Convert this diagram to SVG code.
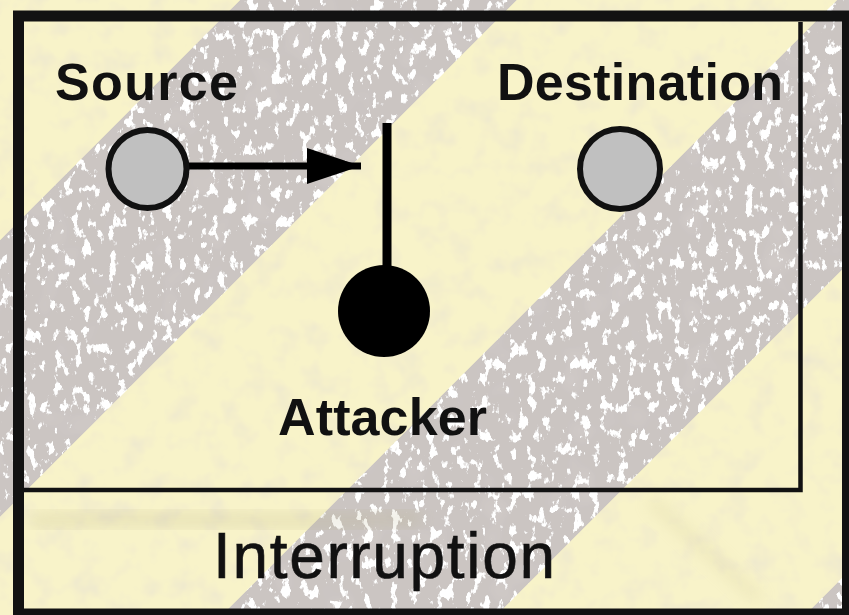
<svg xmlns="http://www.w3.org/2000/svg" width="849" height="615" viewBox="0 0 849 615">
  <style>
    .lbl { font-family: "Liberation Sans", Arial, Helvetica, sans-serif; font-weight: bold; font-size: 52px; fill: #111; }
    .title { font-family: "Liberation Sans", Arial, Helvetica, sans-serif; font-size: 64px; fill: #111; stroke: #111; stroke-width: 0.6; }
    .node { fill: #c0c0c0; stroke: #111; stroke-width: 6; }
    .attacker { fill: #000; }
    .wire { stroke: #000; fill: none; }
    .frame { fill: none; stroke: #121212; }
  </style>
  <defs>
    <!-- worn, speckled grey paint for the diagonal bands -->
    <filter id="worn" x="0" y="0" width="100%" height="100%" filterUnits="userSpaceOnUse">
      <feTurbulence type="fractalNoise" baseFrequency="0.11 0.07" numOctaves="4" seed="7" result="noise"/>
      <feColorMatrix in="noise" type="matrix" values="0 0 0 0 1  0 0 0 0 1  0 0 0 0 1  0 0 0 14 -8.3" result="specks"/>
      <feTurbulence type="fractalNoise" baseFrequency="0.025" numOctaves="2" seed="3" result="noise2"/>
      <feColorMatrix in="noise2" type="matrix" values="0 0 0 0 0.66  0 0 0 0 0.62  0 0 0 0 0.6  0 0 0 2 -1.15" result="blots"/>
      <feMerge result="paint">
        <feMergeNode in="SourceGraphic"/>
        <feMergeNode in="blots"/>
        <feMergeNode in="specks"/>
      </feMerge>
      <feComposite in="paint" in2="SourceAlpha" operator="in"/>
    </filter>
    <!-- faint mottling on the pale yellow ground -->
    <filter id="mottle" x="0" y="0" width="100%" height="100%" filterUnits="userSpaceOnUse">
      <feTurbulence type="fractalNoise" baseFrequency="0.04" numOctaves="3" seed="11" result="n"/>
      <feColorMatrix in="n" type="matrix" values="0 0 0 0 0.85  0 0 0 0 0.8  0 0 0 0 0.62  0 0 0 2 -0.95" result="m"/>
      <feMerge><feMergeNode in="SourceGraphic"/><feMergeNode in="m"/></feMerge>
    </filter>
    <filter id="soft" x="-20%" y="-300%" width="140%" height="700%">
      <feGaussianBlur stdDeviation="8"/>
    </filter>
    <marker id="head" markerUnits="userSpaceOnUse" markerWidth="56" markerHeight="38" refX="54" refY="18" orient="auto">
      <path d="M0,0 L54,18 L0,36 z" fill="#000"/>
    </marker>
  </defs>

  <!-- background: pale yellow with diagonal worn grey bands -->
  <g id="background">
    <rect x="0" y="0" width="849" height="615" fill="#f8f3c9" filter="url(#mottle)"/>
    <g filter="url(#worn)">
      <polygon points="240,0 517,0 0,517 0,240" fill="#cbc5c2"/>
      <polygon points="837,0 849,0 849,263 497,615 222,615" fill="#cbc5c2"/>
      <polygon points="849,571 849,615 805,615" fill="#cbc5c2"/>
    </g>
    <!-- soft smudges in the caption strip -->
    <path d="M30,521 C150,515 300,525 420,518" stroke="#b0a878" stroke-width="16" opacity="0.22" fill="none" filter="url(#soft)"/>
    <path d="M650,500 L760,600" stroke="#c8c090" stroke-width="10" opacity="0.25" fill="none" filter="url(#soft)"/>
  </g>

  <!-- outer frame and inner panel -->
  <g id="frame">
    <rect class="frame" x="18.5" y="16" width="829" height="598" stroke-width="11"/>
    <path class="frame" d="M24,490 H800.5 V22" stroke-width="4.5"/>
  </g>

  <g id="connectors">
    <line class="wire" x1="188" y1="166" x2="361" y2="166" stroke-width="7" marker-end="url(#head)"/>
    <line class="wire" x1="387" y1="123" x2="387" y2="290" stroke-width="9"/>
  </g>

  <g id="source">
    <circle class="node" cx="147.5" cy="169" r="39"/>
    <text class="lbl" x="55" y="100" textLength="183" lengthAdjust="spacing">Source</text>
  </g>

  <g id="destination">
    <circle class="node" cx="620" cy="169" r="40"/>
    <text class="lbl" x="497" y="100" textLength="286" lengthAdjust="spacing">Destination</text>
  </g>

  <g id="attacker">
    <circle class="attacker" cx="384" cy="311" r="46"/>
    <text class="lbl" x="278" y="435" textLength="209" lengthAdjust="spacing">Attacker</text>
  </g>

  <g id="caption">
    <text class="title" x="213" y="578" textLength="342" lengthAdjust="spacing">Interruption</text>
  </g>
</svg>
